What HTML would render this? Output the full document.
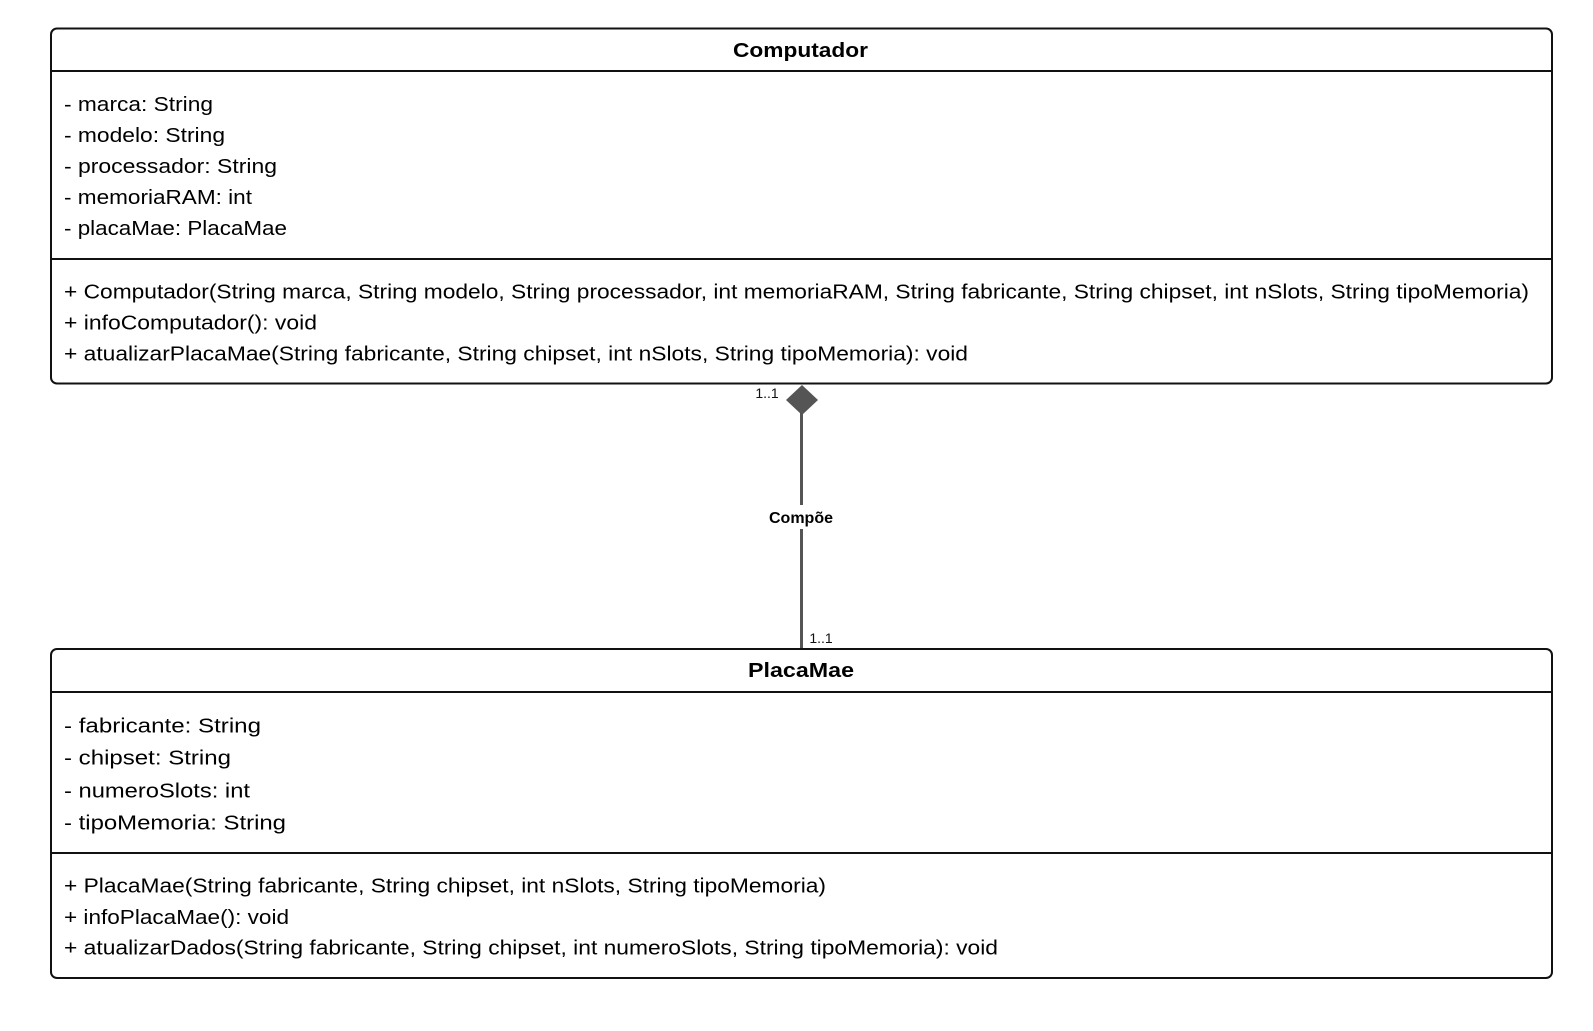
<!DOCTYPE html>
<html><head><meta charset="utf-8"><style>html,body{margin:0;padding:0;background:#fff;width:1593px;height:1031px;overflow:hidden}</style></head>
<body>
<svg width="1593" height="1031" viewBox="0 0 1593 1031" xmlns="http://www.w3.org/2000/svg" font-family="'Liberation Sans', 'DejaVu Sans', sans-serif">
<rect x="0" y="0" width="1593" height="1031" fill="#fff"/>
<!-- connector -->
<line x1="801.5" y1="400" x2="801.5" y2="649" stroke="#555" stroke-width="3"/>
<polygon points="802,385 818,400 802,415 786,400" fill="#555"/>
<text x="767" y="398" font-size="14" text-anchor="middle" fill="#111">1..1</text>
<text x="821" y="643" font-size="14" text-anchor="middle" fill="#111">1..1</text>
<rect x="762" y="505" width="80" height="24" fill="#fff"/>
<text x="801" y="523" font-size="16" font-weight="bold" text-anchor="middle" fill="#000">Compõe</text>

<!-- Computador -->
<rect x="51" y="28.5" width="1501" height="355" rx="6" fill="#fff" stroke="#111" stroke-width="2"/>
<line x1="51" y1="71" x2="1552" y2="71" stroke="#111" stroke-width="2"/>
<line x1="51" y1="259" x2="1552" y2="259" stroke="#111" stroke-width="2"/>
<text x="800.5" y="57" font-size="20" font-weight="bold" text-anchor="middle" textLength="135" lengthAdjust="spacingAndGlyphs">Computador</text>
<g font-size="20.5" fill="#000" lengthAdjust="spacingAndGlyphs">
<text x="64" y="111" textLength="149" lengthAdjust="spacingAndGlyphs">- marca: String</text>
<text x="64" y="142" textLength="161" lengthAdjust="spacingAndGlyphs">- modelo: String</text>
<text x="64" y="173" textLength="213" lengthAdjust="spacingAndGlyphs">- processador: String</text>
<text x="64" y="204" textLength="188" lengthAdjust="spacingAndGlyphs">- memoriaRAM: int</text>
<text x="64" y="235" textLength="223" lengthAdjust="spacingAndGlyphs">- placaMae: PlacaMae</text>
<text x="64" y="298.5" textLength="1465" lengthAdjust="spacingAndGlyphs">+ Computador(String marca, String modelo, String processador, int memoriaRAM, String fabricante, String chipset, int nSlots, String tipoMemoria)</text>
<text x="64" y="329.5" textLength="253" lengthAdjust="spacingAndGlyphs">+ infoComputador(): void</text>
<text x="64" y="360.5" textLength="904" lengthAdjust="spacingAndGlyphs">+ atualizarPlacaMae(String fabricante, String chipset, int nSlots, String tipoMemoria): void</text>
</g>

<!-- PlacaMae -->
<rect x="51" y="649" width="1501" height="329" rx="6" fill="#fff" stroke="#111" stroke-width="2"/>
<line x1="51" y1="692" x2="1552" y2="692" stroke="#111" stroke-width="2"/>
<line x1="51" y1="853" x2="1552" y2="853" stroke="#111" stroke-width="2"/>
<text x="801" y="677" font-size="20" font-weight="bold" text-anchor="middle" textLength="106" lengthAdjust="spacingAndGlyphs">PlacaMae</text>
<g font-size="20.5" fill="#000">
<text x="64" y="732.5" textLength="197" lengthAdjust="spacingAndGlyphs">- fabricante: String</text>
<text x="64" y="764.5" textLength="167" lengthAdjust="spacingAndGlyphs">- chipset: String</text>
<text x="64" y="797.5" textLength="186" lengthAdjust="spacingAndGlyphs">- numeroSlots: int</text>
<text x="64" y="829.5" textLength="222" lengthAdjust="spacingAndGlyphs">- tipoMemoria: String</text>
<text x="64" y="892.5" textLength="762" lengthAdjust="spacingAndGlyphs">+ PlacaMae(String fabricante, String chipset, int nSlots, String tipoMemoria)</text>
<text x="64" y="924" textLength="225" lengthAdjust="spacingAndGlyphs">+ infoPlacaMae(): void</text>
<text x="64" y="954.5" textLength="934" lengthAdjust="spacingAndGlyphs">+ atualizarDados(String fabricante, String chipset, int numeroSlots, String tipoMemoria): void</text>
</g>
</svg>
</body></html>
